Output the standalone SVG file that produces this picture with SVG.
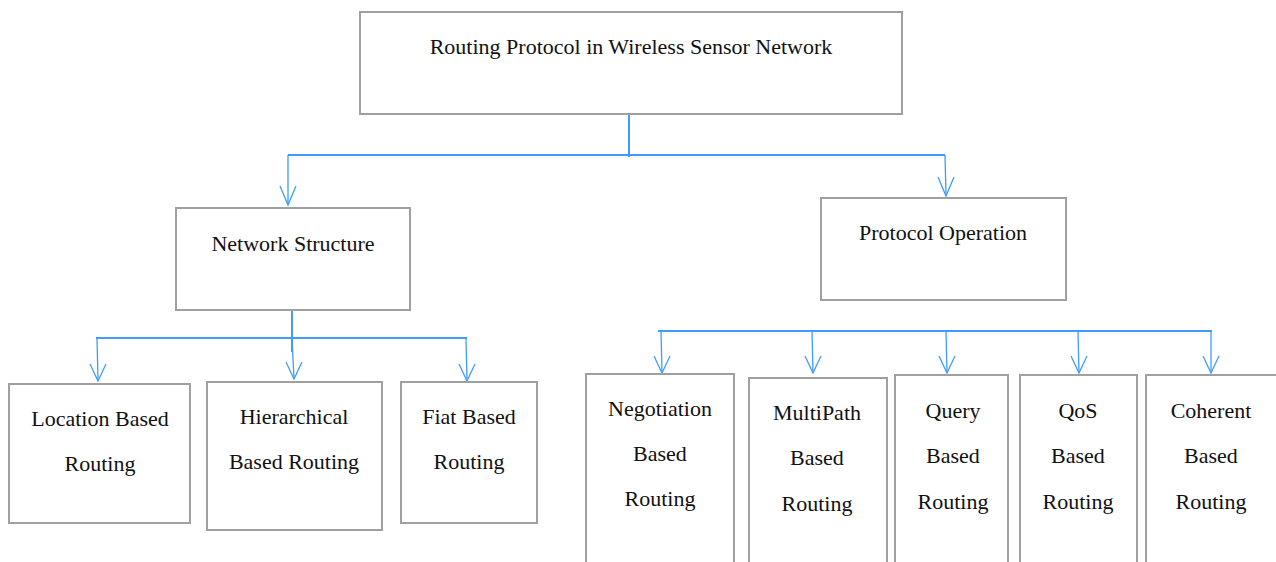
<svg xmlns="http://www.w3.org/2000/svg" width="1276" height="562" viewBox="0 0 1276 562">
  <style>
    .box { fill: #ffffff; stroke: #a0a0a0; stroke-width: 2; }
    .lbl { font-family: "Liberation Serif", "Times New Roman", serif; font-size: 22px; fill: #111111; text-anchor: middle; }
    .bus { stroke: #3f9cff; stroke-width: 2; fill: none; }
    .drop { stroke: #3f9cff; stroke-width: 1.3; fill: none; }
    .head { stroke: #3f9cff; stroke-width: 1.3; fill: none; }
  </style>
  <rect width="1276" height="562" fill="#ffffff"/>

  <!-- connectors -->
  <g id="connectors">
    <!-- root to level 1 -->
    <line class="bus" x1="629" y1="114" x2="629" y2="157"/>
    <line class="bus" x1="288" y1="155" x2="945" y2="155"/>
    <line class="drop" x1="288" y1="155" x2="288" y2="205"/>
    <path class="head" d="M280,186 L288,205 L296,186"/>
    <line class="drop" x1="945" y1="155" x2="946" y2="196"/>
    <path class="head" d="M938,177 L946,196 L954,177"/>

    <!-- network structure to its children -->
    <line class="bus" x1="292" y1="310" x2="292" y2="352"/>
    <line class="bus" x1="96" y1="338" x2="467" y2="338"/>
    <line class="drop" x1="97" y1="338" x2="98" y2="381"/>
    <path class="head" d="M90,364 L98,381 L106,364"/>
    <line class="drop" x1="292" y1="338" x2="294" y2="379"/>
    <path class="head" d="M286,362 L294,379 L302,362"/>
    <line class="drop" x1="466" y1="338" x2="467" y2="381"/>
    <path class="head" d="M459,364 L467,381 L475,364"/>

    <!-- protocol operation children -->
    <line class="bus" x1="658" y1="331" x2="1212" y2="331"/>
    <line class="drop" x1="661" y1="331" x2="662" y2="373"/>
    <path class="head" d="M654,356 L662,373 L670,356"/>
    <line class="drop" x1="812" y1="331" x2="813" y2="373"/>
    <path class="head" d="M805,356 L813,373 L821,356"/>
    <line class="drop" x1="946" y1="331" x2="947" y2="373"/>
    <path class="head" d="M939,356 L947,373 L955,356"/>
    <line class="drop" x1="1078" y1="331" x2="1079" y2="373"/>
    <path class="head" d="M1071,356 L1079,373 L1087,356"/>
    <line class="drop" x1="1211" y1="331" x2="1211" y2="373"/>
    <path class="head" d="M1203,356 L1211,373 L1219,356"/>
  </g>

  <g id="root">
    <rect class="box" x="360" y="12" width="542" height="102"/>
    <text class="lbl" x="631" y="54">Routing Protocol in Wireless Sensor Network</text>
  </g>

  <g id="network-structure">
    <rect class="box" x="176" y="208" width="234" height="102"/>
    <text class="lbl" x="293" y="251">Network Structure</text>
  </g>

  <g id="protocol-operation">
    <rect class="box" x="821" y="198" width="245" height="102"/>
    <text class="lbl" x="943" y="240">Protocol Operation</text>
  </g>

  <g id="location-based">
    <rect class="box" x="9" y="384" width="181" height="139"/>
    <text class="lbl" x="100" y="426">Location Based</text>
    <text class="lbl" x="100" y="471">Routing</text>
  </g>

  <g id="hierarchical-based">
    <rect class="box" x="207" y="382" width="175" height="148"/>
    <text class="lbl" x="294" y="424">Hierarchical</text>
    <text class="lbl" x="294" y="469">Based Routing</text>
  </g>

  <g id="fiat-based">
    <rect class="box" x="401" y="382" width="136" height="141"/>
    <text class="lbl" x="469" y="424">Fiat Based</text>
    <text class="lbl" x="469" y="469">Routing</text>
  </g>

  <g id="negotiation-based">
    <rect class="box" x="586" y="374" width="148" height="200"/>
    <text class="lbl" x="660" y="416">Negotiation</text>
    <text class="lbl" x="660" y="461">Based</text>
    <text class="lbl" x="660" y="506">Routing</text>
  </g>

  <g id="multipath-based">
    <rect class="box" x="749" y="378" width="138" height="200"/>
    <text class="lbl" x="817" y="420">MultiPath</text>
    <text class="lbl" x="817" y="465">Based</text>
    <text class="lbl" x="817" y="511">Routing</text>
  </g>

  <g id="query-based">
    <rect class="box" x="895" y="375" width="113" height="200"/>
    <text class="lbl" x="953" y="418">Query</text>
    <text class="lbl" x="953" y="463">Based</text>
    <text class="lbl" x="953" y="509">Routing</text>
  </g>

  <g id="qos-based">
    <rect class="box" x="1020" y="375" width="117" height="200"/>
    <text class="lbl" x="1078" y="418">QoS</text>
    <text class="lbl" x="1078" y="463">Based</text>
    <text class="lbl" x="1078" y="509">Routing</text>
  </g>

  <g id="coherent-based">
    <rect class="box" x="1146" y="375" width="140" height="200"/>
    <text class="lbl" x="1211" y="418">Coherent</text>
    <text class="lbl" x="1211" y="463">Based</text>
    <text class="lbl" x="1211" y="509">Routing</text>
  </g>
</svg>
